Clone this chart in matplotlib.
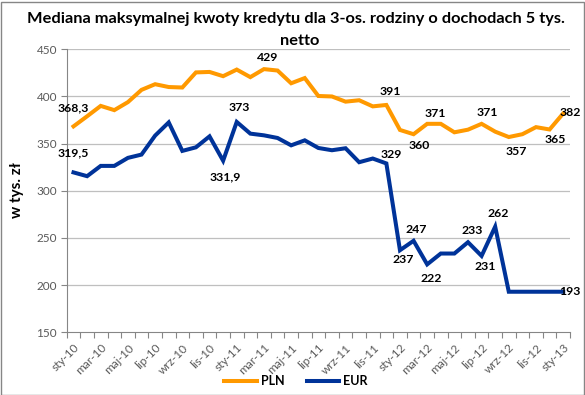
import matplotlib
matplotlib.use("Agg")
import matplotlib.pyplot as plt
from matplotlib.patches import Rectangle
from matplotlib.ticker import FixedLocator, NullFormatter

plt.rcParams['font.family'] = ['Lato', 'DejaVu Sans']

months = ["sty-10", "lut-10", "mar-10", "kwi-10", "maj-10", "cze-10", "lip-10", "sie-10",
          "wrz-10", "paź-10", "lis-10", "gru-10", "sty-11", "lut-11", "mar-11", "kwi-11",
          "maj-11", "cze-11", "lip-11", "sie-11", "wrz-11", "paź-11", "lis-11", "gru-11",
          "sty-12", "lut-12", "mar-12", "kwi-12", "maj-12", "cze-12", "lip-12", "sie-12",
          "wrz-12", "paź-12", "lis-12", "gru-12", "sty-13"]

pln = [368.3, 379, 390, 385.5, 394, 407, 413, 410, 409.5, 425.5, 426, 421.5, 428.5,
       420.5, 429, 427.5, 414, 419.5, 400.5, 400, 394.5, 396, 389.5, 391, 364.5, 360,
       371, 371, 362, 364.8, 371, 362.7, 357, 360, 367.5, 365, 382]

eur = [319.5, 315.5, 326.4, 326.4, 334.9, 338.4, 358.5, 372.5, 342.3, 346.1, 357.7,
       331.9, 373, 360.6, 358.8, 356, 348.2, 353.5, 345.4, 343, 345.1, 330.3, 334.2,
       329, 237, 247, 222, 233.5, 233.5, 245.5, 231, 262, 193, 193, 193, 193, 193]

# data labels: (index, text)
pln_labels = [(0, "368,3"), (14, "429"), (23, "391"), (25, "360"), (26, "371"),
              (30, "371"), (32, "357"), (35, "365"), (36, "382")]
eur_labels = [(0, "319,5"), (11, "331,9"), (12, "373"), (23, "329"), (24, "237"),
              (25, "247"), (26, "222"), (29, "233"), (30, "231"), (31, "262"), (36, "193")]

# label offsets in pixels (placement only)
pln_off = {0: (0, 19), 14: (4, 12), 23: (4, 13), 25: (6, -11), 26: (8, 10),
           30: (6, 11), 32: (7, -14.5), 35: (6, -10.5), 36: (7, 1)}
eur_off = {0: (0, 20), 11: (2, -16), 12: (3, 14), 23: (5, 8.5), 24: (3, -9),
           25: (3, 11), 26: (4, -14), 29: (4, 12), 30: (4, -11), 31: (3, 13), 36: (7, 0)}

C_PLN = "#FF9900"
C_EUR = "#003399"
GRAY_AX = "#868686"
GRAY_GRID = "#BFBFBF"
GRAY_TXT = "#595959"

fig = plt.figure(figsize=(5.85, 3.95), dpi=100)
ax = fig.add_axes([66.7 / 585, 1 - 332.3 / 395, (570 - 66.7) / 585, (332.3 - 49.3) / 395])

x = list(range(len(months)))
ax.plot(x, pln, color=C_PLN, lw=2.9, solid_joinstyle='miter', label="PLN", zorder=3)
ax.plot(x, eur, color=C_EUR, lw=2.9, solid_joinstyle='miter', label="EUR", zorder=3)

ax.set_xlim(-0.5, len(months) - 0.5)
ax.set_ylim(150, 450)
ax.set_yticks(range(150, 451, 50))
ax.tick_params(axis='y', labelsize=8.5, colors=GRAY_AX, labelcolor=GRAY_TXT,
               length=4, width=0.8, pad=3)

ax.set_xticks(x[::2])
ax.set_xticklabels(months[::2], rotation=45, ha='right', va='top',
                   rotation_mode='anchor', fontsize=8.5, color=GRAY_TXT)
ax.tick_params(axis='x', which='major', length=0, pad=7)
ax.xaxis.set_minor_locator(FixedLocator([i - 0.5 for i in range(len(months) + 1)]))
ax.xaxis.set_minor_formatter(NullFormatter())
ax.tick_params(axis='x', which='minor', length=4, width=0.8, color=GRAY_AX)

for s in ['top', 'right']:
    ax.spines[s].set_visible(False)
for s in ['left', 'bottom']:
    ax.spines[s].set_color(GRAY_AX)
    ax.spines[s].set_linewidth(0.8)

for v in range(200, 451, 50):
    ax.axhline(v, color=GRAY_GRID, lw=0.9, zorder=1)

for i, t in pln_labels:
    dx, dy = pln_off[i]
    ax.annotate(t, (x[i], pln[i]), xytext=(dx, dy), textcoords='offset pixels',
                ha='center', va='center', fontsize=8.8, fontweight='bold', color='black',
                annotation_clip=False, zorder=4)
for i, t in eur_labels:
    dx, dy = eur_off[i]
    ax.annotate(t, (x[i], eur[i]), xytext=(dx, dy), textcoords='offset pixels',
                ha='center', va='center', fontsize=8.8, fontweight='bold', color='black',
                annotation_clip=False, zorder=4)

fig.text(17 / 585, 1 - 190 / 395, "w tys. zł", rotation=90, fontsize=11,
         fontweight='bold', ha='center', va='center')

fig.text(296 / 585, 1 - 19 / 395, "Mediana maksymalnej kwoty kredytu dla 3-os. rodziny o dochodach 5 tys.",
         ha='center', va='center', fontsize=11.8, fontweight='bold')
fig.text(300 / 585, 1 - 41 / 395, "netto", ha='center', va='center',
         fontsize=11.8, fontweight='bold')

leg = fig.legend(loc='center', bbox_to_anchor=(296 / 585, 1 - 381 / 395), ncol=2,
                 frameon=False, fontsize=9, handlelength=2.6, columnspacing=1.8,
                 handletextpad=0.3)
for t in leg.get_texts():
    t.set_fontweight('bold')

fig.patches.append(Rectangle((0.5 / 585, 0.5 / 395), 583 / 585, 393 / 395,
                             transform=fig.transFigure, fill=False,
                             edgecolor=GRAY_AX, lw=1.0))

fig.savefig("out.png", dpi=100)
